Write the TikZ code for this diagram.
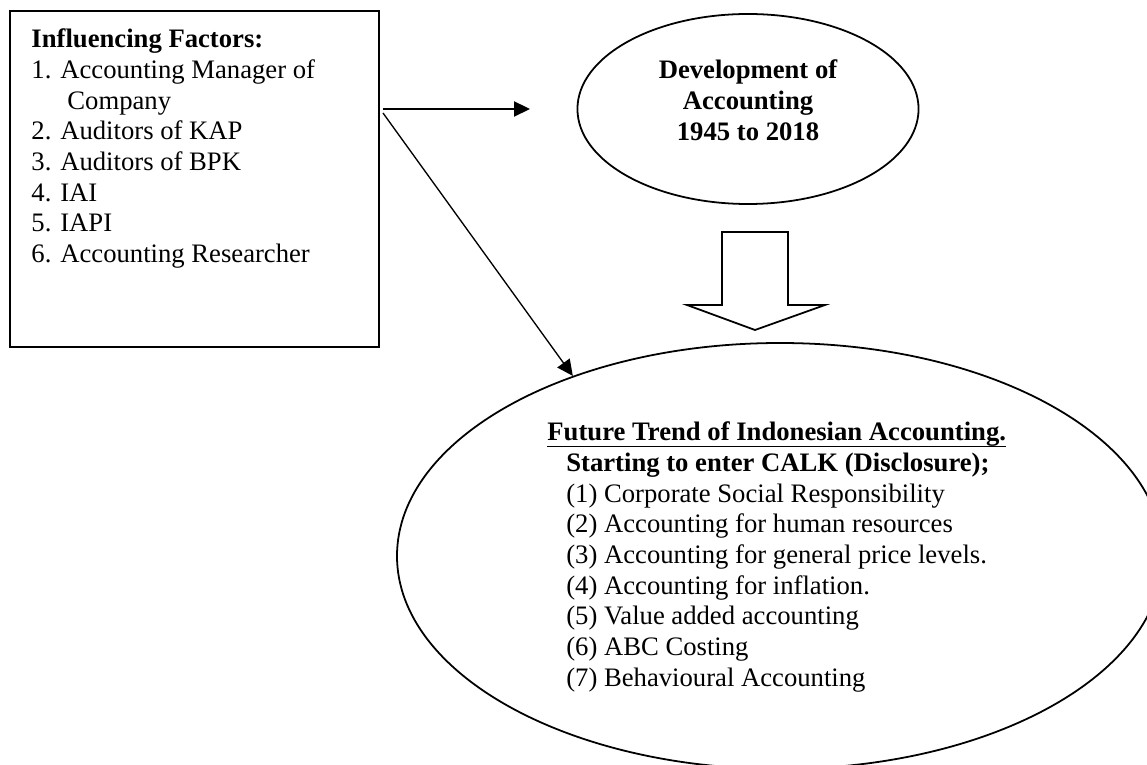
\documentclass[tikz,border=0pt]{standalone}
\usepackage{fontspec}
\setmainfont{Liberation Serif}
\usetikzlibrary{arrows.meta,shapes.geometric}

\newsavebox\headbox
\newcommand\headline[1]{\sbox\headbox{#1}\rlap{\usebox\headbox}\rule[-2.9pt]{\wd\headbox}{0.7pt}}

\begin{document}
\begin{tikzpicture}[x = 0.45pt, y = -0.45pt,
                   every node/.style = {inner sep = 0pt,
                                        font       = \fontsize{12}{13.8}\selectfont},
                   box/.style        = {draw, line width = 0.8pt},
                   words/.style      = {anchor = north west, align = left},
                   plain arrow/.style = {-{Triangle[length = 7.2pt, width = 6.8pt]},
                                        line width = 0.6pt}]

\useasboundingbox (0,0) rectangle (1147,765);
\clip (0,0) rectangle (1147,765);

% the nodes
\node[box, minimum width = 166pt, minimum height = 151.2pt] (factors) at (194.5,179) {};
\node[words] (factorlist) at (31,28.6)
     {\textbf{Influencing Factors:}\\
      1. Accounting Manager of\\
      \hspace*{16.2pt}Company\\
      2. Auditors of KAP\\
      3. Auditors of BPK\\
      4. IAI\\
      5. IAPI\\
      6. Accounting Researcher};

\node[box, ellipse, minimum width = 153.5pt, minimum height = 85.5pt] (devel) at (748,109) {};
\node[anchor = north, align = center,
      font = \bfseries\fontsize{12}{13.8}\selectfont] (develtext) at (748,59.6)
     {Development of\\
      Accounting\\
      1945 to 2018};

\node[box, ellipse, minimum width = 344.7pt, minimum height = 191.7pt] (trend) at (780,556) {};
\node[words] (trendtext) at (547,421.6)
     {\headline{\textbf{Future Trend of Indonesian Accounting.}}\\
      \hspace*{8.5pt}\textbf{Starting to enter CALK (Disclosure);}\\
      \hspace*{8.5pt}(1) Corporate Social Responsibility\\
      \hspace*{8.5pt}(2) Accounting for human resources\\
      \hspace*{8.5pt}(3) Accounting for general price levels.\\
      \hspace*{8.5pt}(4) Accounting for inflation.\\
      \hspace*{8.5pt}(5) Value added accounting\\
      \hspace*{8.5pt}(6) ABC Costing\\
      \hspace*{8.5pt}(7) Behavioural Accounting};

% block arrow
\draw[line width = 0.8pt] (722,232) -- (788,232) -- (788,305) -- (825,305)
     -- (755,330) -- (687,305) -- (722,305) -- cycle;

% edges
\coordinate (forkA)  at (383,109);
\coordinate (forkB)  at (383,113);
\coordinate (devtip) at (530,109);
\draw[plain arrow, line width = 0.8pt] (forkA) -- (devtip);
\draw[plain arrow] (forkB) -- (trend.139);
\end{tikzpicture}
\end{document}
